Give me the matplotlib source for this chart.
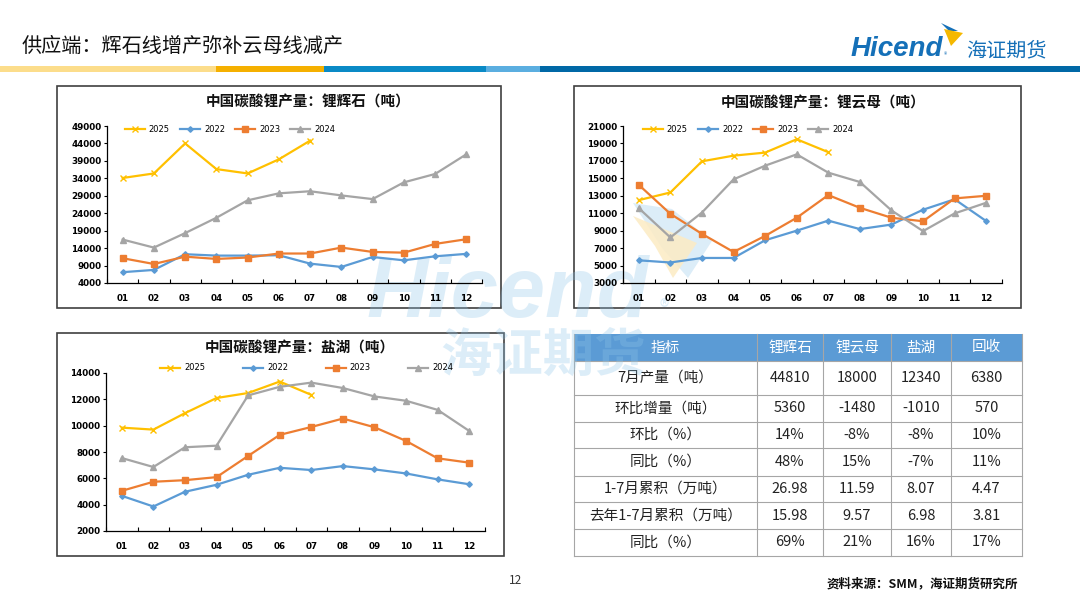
import numpy as np
import matplotlib
matplotlib.use('Agg')
import matplotlib.pyplot as plt
from matplotlib.patches import Rectangle, Polygon

plt.rcParams['font.family'] = ['Noto Sans CJK SC', 'DejaVu Sans']

# ---- data (tonnes) ----
months = ['01', '02', '03', '04', '05', '06', '07', '08', '09', '10', '11', '12']

spod_2025 = [34100, 35400, 44000, 36650, 35400, 39450, 44810]
spod_2022 = [7100, 7750, 12250, 11850, 11850, 11950, 9550, 8600, 11450, 10500, 11650, 12350]
spod_2023 = [11100, 9450, 11550, 10900, 11300, 12450, 12450, 14150, 12900, 12700, 15200, 16550]
spod_2024 = [16450, 14150, 18300, 22700, 27700, 29700, 30300, 29100, 28050, 32850, 35250, 40900]

lepi_2025 = [12500, 13380, 16950, 17600, 17950, 19480, 18000]
lepi_2022 = [5600, 5350, 5870, 5870, 7900, 9000, 10150, 9180, 9700, 11400, 12600, 10100]
lepi_2023 = [14250, 10930, 8630, 6560, 8400, 10480, 13080, 11620, 10480, 10080, 12700, 13000]
lepi_2024 = [11580, 8220, 11080, 14880, 16450, 17750, 15650, 14580, 11320, 8950, 10980, 12200]

brine_2025 = [9850, 9700, 10950, 12100, 12480, 13350, 12340]
brine_2022 = [4670, 3860, 4980, 5510, 6270, 6800, 6630, 6930, 6680, 6370, 5920, 5550]
brine_2023 = [5050, 5740, 5860, 6090, 7700, 9300, 9900, 10540, 9880, 8840, 7520, 7190]
brine_2024 = [7540, 6860, 8360, 8480, 12300, 12950, 13270, 12860, 12220, 11890, 11200, 9600]

table_header = ['指标', '锂辉石', '锂云母', '盐湖', '回收']
table_rows = [
    ['7月产量（吨）', '44810', '18000', '12340', '6380'],
    ['环比增量（吨）', '5360', '-1480', '-1010', '570'],
    ['环比（%）', '14%', '-8%', '-8%', '10%'],
    ['同比（%）', '48%', '15%', '-7%', '11%'],
    ['1-7月累积（万吨）', '26.98', '11.59', '8.07', '4.47'],
    ['去年1-7月累积（万吨）', '15.98', '9.57', '6.98', '3.81'],
    ['同比（%）', '69%', '21%', '16%', '17%'],
]

W, H = 1080, 607
fig = plt.figure(figsize=(W / 100, H / 100), dpi=100)

# background axes in pixel units
bg = fig.add_axes([0, 0, 1, 1], zorder=0)
bg.set_xlim(0, W)
bg.set_ylim(H, 0)
bg.axis('off')

def box(x0, y0, x1, y1):
    return [x0 / W, 1 - y1 / H, (x1 - x0) / W, (y1 - y0) / H]

# ---- header ----
bg.text(22, 46, '供应端：辉石线增产弥补云母线减产', fontsize=14.5, va='center', ha='left',
        color='#111111', fontweight='medium')
stripes = [(0, 216, '#FCDD8B'), (216, 324, '#F5B000'), (324, 486, '#0A8AC6'),
           (486, 540, '#5BAEE0'), (540, 1080, '#0068A6')]
for a, b, c in stripes:
    bg.add_patch(Rectangle((a, 66), b - a, 6, color=c, lw=0))

# logo
bg.text(851, 56, 'Hicend', fontsize=20, fontweight='bold', style='italic', color='#1570B8',
        family='Liberation Sans', va='baseline')
bg.text(944, 57, '®', fontsize=5, color='#1570B8', va='baseline')
bg.text(1006, 51, '海证期货', fontsize=14.5, color='#1570B8', va='center', ha='center')
bg.add_patch(Polygon([(941, 23), (958, 31), (949, 31)], closed=True, color='#1570B8', lw=0))
bg.add_patch(Polygon([(944, 29), (963, 33), (951, 46), (947, 36)], closed=True, color='#F5B800', lw=0))

# chart frames
for (x0, y0, x1, y1) in [(57, 86, 501, 308), (574, 86, 1021, 308), (57, 333, 504, 556)]:
    bg.add_patch(Rectangle((x0, y0), x1 - x0, y1 - y0, fill=False, ec='#404040', lw=1.2))

# ---- table ----
col_x = [574, 757, 823, 891, 951, 1022]
row_y = [334, 361, 395, 422, 448, 476, 502, 529, 556]
bg.add_patch(Rectangle((col_x[0], row_y[0]), col_x[-1] - col_x[0], row_y[1] - row_y[0],
                       color='#5B9BD5', lw=0))
for j, t in enumerate(table_header):
    bg.text((col_x[j] + col_x[j + 1]) / 2, (row_y[0] + row_y[1]) / 2, t, color='white',
            fontsize=10.5, ha='center', va='center')
for i, row in enumerate(table_rows):
    yc = (row_y[i + 1] + row_y[i + 2]) / 2
    for j, t in enumerate(row):
        bg.text((col_x[j] + col_x[j + 1]) / 2, yc, t, color='#222222',
                fontsize=10.5, ha='center', va='center')
for y in row_y[1:]:
    bg.plot([col_x[0], col_x[-1]], [y, y], color='#A6A6A6', lw=0.8)
for x in col_x:
    bg.plot([x, x], [row_y[0], row_y[-1]], color='#A6A6A6', lw=0.8)

# footer
bg.text(516, 580, '12', fontsize=8.5, ha='center', va='center', color='#333333')
bg.text(1018, 584, '资料来源：SMM，海证期货研究所', fontsize=9, fontweight='bold',
        ha='right', va='center', color='#111111')

# ---- watermark ----
wm = fig.add_axes([0, 0, 1, 1], zorder=1)
wm.set_xlim(0, W)
wm.set_ylim(H, 0)
wm.axis('off')
wm.patch.set_alpha(0)
wmc = '#8EC5E8'
wm.text(367, 317, 'Hicend', fontsize=61, fontweight='bold', style='italic', family='Liberation Sans',
        color=wmc, alpha=0.3, va='baseline')
wm.text(660, 314, '®', fontsize=14, color=wmc, alpha=0.3, va='baseline')
wm.text(543, 356, '海证期货', fontsize=37, fontweight='bold', color=wmc, alpha=0.3,
        ha='center', va='center')
wm.add_patch(Polygon([(633, 203), (672, 209), (712, 241), (688, 278), (662, 248)],
                     closed=True, color=wmc, alpha=0.3, lw=0))
wm.add_patch(Polygon([(633, 216), (697, 243), (673, 278), (655, 246)],
                     closed=True, color='#FCEBC4', alpha=0.85, lw=0))

# ---- line charts ----
styles = {
    '2025': dict(color='#FFC000', marker='x', ms=4.5, mew=1.0),
    '2022': dict(color='#5B9BD5', marker='D', ms=2.8),
    '2023': dict(color='#ED7D31', marker='s', ms=4.5),
    '2024': dict(color='#A5A5A5', marker='^', ms=4.5),
}

def line_chart(rect, title, title_xy, series, ymin, ymax, step, leg_xy, colsp):
    ax = fig.add_axes(box(*rect), zorder=2)
    ax.patch.set_alpha(0)
    x = np.arange(12)
    handles = []
    for name in ['2025', '2022', '2023', '2024']:
        vals = series[name]
        h, = ax.plot(x[:len(vals)], vals, lw=1.6, label=name, **styles[name])
        handles.append(h)
    ax.set_xlim(-0.5, 11.5)
    ax.set_ylim(ymin, ymax)
    ax.set_yticks(np.arange(ymin, ymax + 1, step))
    ax.set_xticks(x)
    ax.set_xticklabels(months)
    ax.set_xticks(np.arange(-0.5, 12, 1), minor=True)
    for s in ['top', 'right']:
        ax.spines[s].set_visible(False)
    for s in ['left', 'bottom']:
        ax.spines[s].set_color('#000000')
        ax.spines[s].set_linewidth(0.9)
    ax.tick_params(axis='x', which='major', length=0, pad=8)
    ax.tick_params(axis='x', which='minor', length=3, direction='in', width=0.8)
    ax.tick_params(axis='y', length=2.5, width=0.8, pad=1.5)
    for lab in ax.get_xticklabels() + ax.get_yticklabels():
        lab.set_family('DejaVu Sans')
        lab.set_fontweight('bold')
        lab.set_fontsize(6.3)
    bg.text(title_xy[0], title_xy[1], title, fontsize=10.5, fontweight='bold',
            ha='center', va='center', color='#111111')
    ax.legend(handles=handles, ncol=4, loc='center', bbox_to_anchor=leg_xy,
              bbox_transform=bg.transData, frameon=False, prop={'family': 'DejaVu Sans', 'size': 6},
              handlelength=2.4, handletextpad=0.5, columnspacing=colsp, borderpad=0)
    return ax

line_chart((107, 126, 482, 283), '中国碳酸锂产量：锂辉石（吨）', (308, 102),
           {'2025': spod_2025, '2022': spod_2022, '2023': spod_2023, '2024': spod_2024},
           4000, 49000, 5000, (230, 129), 1.2)
line_chart((623, 126, 1002, 283), '中国碳酸锂产量：锂云母（吨）', (823, 102),
           {'2025': lepi_2025, '2022': lepi_2022, '2023': lepi_2023, '2024': lepi_2024},
           3000, 21000, 2000, (748, 129), 1.2)
line_chart((106, 373, 485, 531), '中国碳酸锂产量：盐湖（吨）', (300, 348),
           {'2025': brine_2025, '2022': brine_2022, '2023': brine_2023, '2024': brine_2024},
           2000, 14000, 2000, (307, 368), 4.5)

fig.savefig('out.png', dpi=100)
